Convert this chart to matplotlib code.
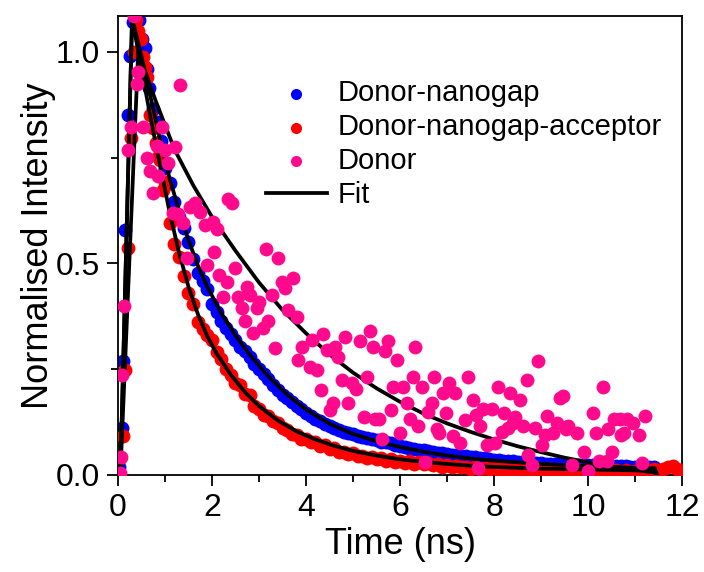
import numpy as np
import matplotlib
matplotlib.use("Agg")
import matplotlib.pyplot as plt
from matplotlib.ticker import MultipleLocator

plt.rcParams['font.family'] = ['Liberation Sans', 'DejaVu Sans']

# Donor-nanogap (blue): rise section, then 0.1 ns channels from 1.0 ns
t_blue_rise = [0.03, 0.08, 0.11, 0.15, 0.21, 0.26, 0.32, 0.38, 0.45, 0.51, 0.57, 0.62, 0.66, 0.74, 0.83, 0.91]
v_blue_rise = [0.02, 0.11, 0.27, 0.58, 0.85, 0.99, 1.07, 1.075, 1.075, 1.03, 1.01, 0.96, 0.915, 0.865, 0.835, 0.79]
t_blue_tail = np.round(np.arange(1.0, 11.45, 0.1), 2)
v_blue_tail = [0.725, 0.690, 0.645, 0.610, 0.585, 0.550, 0.510, 0.478, 0.458, 0.440,
               0.405, 0.385, 0.365, 0.347, 0.334, 0.318, 0.302, 0.292, 0.278, 0.262,
               0.250, 0.238, 0.226, 0.212, 0.201, 0.190, 0.181, 0.172, 0.163, 0.155,
               0.146, 0.140, 0.132, 0.127, 0.121, 0.116, 0.110, 0.107, 0.102, 0.099,
               0.096, 0.093, 0.089, 0.087, 0.084, 0.082, 0.079, 0.077, 0.075, 0.071,
               0.068, 0.066, 0.063, 0.061, 0.060, 0.058, 0.056, 0.054, 0.053, 0.051,
               0.050, 0.048, 0.047, 0.045, 0.044, 0.043, 0.042, 0.040, 0.039, 0.037,
               0.036, 0.035, 0.034, 0.033, 0.032, 0.031, 0.030, 0.030, 0.029, 0.028,
               0.028, 0.027, 0.027, 0.026, 0.026, 0.025, 0.025, 0.024, 0.024, 0.023,
               0.023, 0.023, 0.022, 0.022, 0.022, 0.021, 0.021, 0.021, 0.022, 0.020,
               0.020, 0.020, 0.019, 0.019, 0.019]

# Donor-nanogap-acceptor (red)
t_red_rise = [0.04, 0.10, 0.15, 0.21, 0.28, 0.33, 0.38, 0.43, 0.49, 0.53, 0.58, 0.62, 0.68, 0.74, 0.80, 0.85, 0.90, 0.96]
v_red_rise = [0.04, 0.092, 0.248, 0.537, 0.797, 1.00, 1.075, 1.05, 1.03, 0.988, 0.965, 0.94, 0.85, 0.82, 0.785, 0.752, 0.745, 0.674]
t_red_tail = np.round(np.arange(1.0, 12.05, 0.1), 2)
v_red_tail = [0.693, 0.595, 0.545, 0.515, 0.470, 0.430, 0.405, 0.362, 0.345, 0.330,
              0.318, 0.290, 0.275, 0.250, 0.236, 0.218, 0.212, 0.192, 0.188, 0.162,
              0.156, 0.142, 0.139, 0.127, 0.123, 0.110, 0.107, 0.097, 0.095, 0.085,
              0.086, 0.078, 0.077, 0.069, 0.071, 0.062, 0.063, 0.055, 0.055, 0.049,
              0.051, 0.045, 0.046, 0.041, 0.042, 0.037, 0.040, 0.034, 0.037, 0.031,
              0.034, 0.029, 0.032, 0.027, 0.030, 0.025, 0.028, 0.023, 0.025, 0.020,
              0.023, 0.018, 0.021, 0.018, 0.020, 0.015, 0.019, 0.014, 0.017, 0.013,
              0.016, 0.012, 0.017, 0.011, 0.015, 0.011, 0.014, 0.010, 0.014, 0.009,
              0.013, 0.009, 0.014, 0.008, 0.012, 0.008, 0.013, 0.007, 0.012, 0.008,
              0.011, 0.007, 0.012, 0.008, 0.010, 0.007, 0.012, 0.006, 0.011, 0.008,
              0.009, 0.010, 0.012, 0.008, 0.013, 0.010, 0.015, 0.018, 0.022, 0.015,
              0.010]

# Donor (pink), noisy
t_donor = [0.05, 0.06, 0.09, 0.13, 0.22, 0.27, 0.34, 0.41, 0.43, 0.54, 0.61, 0.68, 0.75, 0.82, 0.85,
           0.93, 1.00, 1.07, 1.18, 1.21, 1.28, 1.32, 1.39, 1.46, 1.53, 1.64, 1.74, 1.85, 1.90, 2.03,
           2.04, 2.10, 2.14, 2.24, 2.31, 2.35, 2.43, 2.49, 2.56, 2.63, 2.70, 2.74, 2.81, 2.88, 2.95,
           3.00, 3.09, 3.15, 3.20, 3.27, 3.34, 3.41, 3.48, 3.55, 3.62, 3.73, 3.80, 3.83, 3.91, 4.09,
           4.12, 4.23, 4.32, 4.36, 4.44, 4.51, 4.57, 4.62, 4.69, 4.77, 4.83, 4.89, 4.98, 5.06, 5.15,
           5.23, 5.29, 5.36, 5.43, 5.47, 5.55, 5.62, 5.68, 5.74, 5.81, 5.85, 5.94, 6.00, 6.06, 6.15,
           6.21, 6.28, 6.32, 6.38, 6.47, 6.53, 6.60, 6.68, 6.72, 6.79, 6.83, 6.91, 6.98, 7.04, 7.13,
           7.17, 7.28, 7.38, 7.45, 7.55, 7.62, 7.66, 7.70, 7.77, 7.85, 7.96, 8.02, 8.09, 8.17, 8.22,
           8.30, 8.34, 8.40, 8.45, 8.55, 8.62, 8.70, 8.72, 8.81, 8.87, 8.94, 9.02, 9.09, 9.13, 9.26,
           9.34, 9.40, 9.47, 9.53, 9.57, 9.66, 9.77, 9.91, 10.00, 10.10, 10.17, 10.23, 10.32, 10.40, 10.43,
           10.50, 10.55, 10.68, 10.70, 10.77, 10.83, 10.96, 11.09, 11.15, 11.21]
v_donor = [0.005, 0.043, 0.236, 0.400, 0.768, 0.822, 1.085, 0.924, 0.953, 0.822, 0.750, 0.718, 0.666, 0.778, 0.706,
           0.823, 0.768, 0.737, 0.619, 0.776, 0.618, 0.922, 0.595, 0.513, 0.634, 0.643, 0.622, 0.591, 0.496, 0.598,
           0.527, 0.581, 0.473, 0.421, 0.457, 0.652, 0.643, 0.489, 0.421, 0.395, 0.364, 0.445, 0.426, 0.335, 0.395,
           0.409, 0.347, 0.534, 0.364, 0.426, 0.300, 0.513, 0.457, 0.442, 0.390, 0.466, 0.374, 0.272, 0.303, 0.255,
           0.319, 0.248, 0.200, 0.333, 0.296, 0.154, 0.170, 0.303, 0.279, 0.225, 0.326, 0.170, 0.217, 0.203, 0.317,
           0.137, 0.232, 0.341, 0.303, 0.132, 0.132, 0.085, 0.293, 0.317, 0.154, 0.208, 0.272, 0.099, 0.208, 0.170,
           0.132, 0.232, 0.303, 0.116, 0.208, 0.031, 0.149, 0.170, 0.232, 0.109, 0.099, 0.194, 0.147, 0.217, 0.092,
           0.194, 0.075, 0.130, 0.232, 0.177, 0.142, 0.017, 0.116, 0.156, 0.071, 0.156, 0.075, 0.208, 0.102, 0.147,
           0.111, 0.194, 0.123, 0.137, 0.177, 0.116, 0.225, 0.047, 0.024, 0.111, 0.270, 0.071, 0.095, 0.139, 0.099,
           0.123, 0.182, 0.187, 0.109, 0.116, 0.024, 0.099, 0.054, 0.009, 0.147, 0.099, 0.033, 0.208, 0.033, 0.109,
           0.054, 0.132, 0.132, 0.095, 0.099, 0.132, 0.123, 0.095, 0.028, 0.139]

# fitted curves
fit_blue_t = [0.05, 0.30, 0.50, 0.70, 0.90, 1.10, 1.30, 1.50, 1.70, 1.90, 2.20, 2.50, 2.80, 3.20, 3.60,
              4.00, 4.50, 5.00, 5.50, 6.00, 6.50, 7.00, 7.50, 8.00, 9.00, 10.00, 11.00, 11.42, 11.47]
fit_blue_v = [0.0, 1.08, 0.99, 0.89, 0.79, 0.70, 0.625, 0.555, 0.495, 0.445, 0.382, 0.330, 0.285, 0.233, 0.190,
              0.155, 0.121, 0.097, 0.080, 0.066, 0.055, 0.046, 0.039, 0.034, 0.026, 0.021, 0.017, 0.016, 0.0]
fit_red_t = [0.05, 0.30, 0.50, 0.70, 0.90, 1.10, 1.30, 1.50, 1.70, 1.90, 2.10, 2.40, 2.70, 3.00, 3.40,
             3.80, 4.20, 4.60, 5.00, 5.50, 6.00, 6.50, 7.00, 7.50, 8.00, 9.00, 10.00, 11.00, 11.42, 11.47]
fit_red_v = [0.0, 1.08, 0.96, 0.84, 0.73, 0.62, 0.525, 0.445, 0.38, 0.328, 0.287, 0.237, 0.196, 0.163, 0.129,
             0.103, 0.084, 0.069, 0.057, 0.046, 0.037, 0.031, 0.026, 0.022, 0.019, 0.015, 0.013, 0.011, 0.010, 0.0]
fit_donor_t = [0.05, 0.43, 0.80, 1.20, 1.60, 2.00, 2.50, 3.00, 3.50, 4.00, 4.50, 5.00, 5.50, 6.00, 6.50,
               7.00, 7.50, 8.00, 8.50, 9.00, 9.50, 10.00, 10.50, 11.00, 11.42, 11.47]
fit_donor_v = [0.0, 1.00, 0.885, 0.77, 0.685, 0.61, 0.53, 0.455, 0.39, 0.335, 0.285, 0.242, 0.205, 0.173, 0.145,
               0.122, 0.102, 0.084, 0.068, 0.054, 0.041, 0.030, 0.020, 0.012, 0.006, 0.0]

blue = '#0000FF'
red = '#FF0000'
pink = '#FF0A8C'
ms = 100

fig = plt.figure(figsize=(7.04, 5.72), dpi=100)
ax = fig.add_axes([0.1676, 0.1696, 0.8012, 0.8024])

ax.scatter(np.concatenate([t_blue_rise, t_blue_tail]), np.concatenate([v_blue_rise, v_blue_tail]),
           s=ms, color=blue, linewidths=0, label='Donor-nanogap', zorder=2)
ax.scatter(np.concatenate([t_red_rise, t_red_tail]), np.concatenate([v_red_rise, v_red_tail]),
           s=ms, color=red, linewidths=0, label='Donor-nanogap-acceptor', zorder=3)
ax.plot(fit_blue_t, fit_blue_v, color='black', lw=2.7, zorder=4, label='Fit')
ax.plot(fit_red_t, fit_red_v, color='black', lw=2.7, zorder=4)
ax.plot(fit_donor_t, fit_donor_v, color='black', lw=2.7, zorder=4)
ax.scatter(t_donor, v_donor, s=ms, color=pink, linewidths=0, label='Donor', zorder=5)

ax.set_xlim(0, 12)
ax.set_ylim(0, 1.085)
ax.xaxis.set_major_locator(MultipleLocator(2))
ax.xaxis.set_minor_locator(MultipleLocator(1))
ax.yaxis.set_major_locator(MultipleLocator(0.5))
ax.yaxis.set_minor_locator(MultipleLocator(0.25))
ax.tick_params(which='major', direction='out', length=8, width=1.3, labelsize=23, pad=5)
ax.tick_params(which='minor', direction='out', length=5, width=1.3)
ax.yaxis.set_major_formatter(matplotlib.ticker.FormatStrFormatter('%.1f'))
for sp in ax.spines.values():
    sp.set_linewidth(1.3)

ax.set_xlabel('Time (ns)', fontsize=26, labelpad=3)
ax.set_ylabel('Normalised Intensity', fontsize=26, labelpad=0)

h, l = ax.get_legend_handles_labels()
order = [l.index('Donor-nanogap'), l.index('Donor-nanogap-acceptor'), l.index('Donor'), l.index('Fit')]
ax.legend([h[i] for i in order], [l[i] for i in order], loc='upper left',
          bbox_to_anchor=(0.262, 0.862), frameon=False, fontsize=21, borderpad=0,
          borderaxespad=0, handlelength=2.1, handletextpad=0.35, labelspacing=0.2,
          scatterpoints=1, markerscale=0.8)

fig.savefig('out.png', dpi=100)
